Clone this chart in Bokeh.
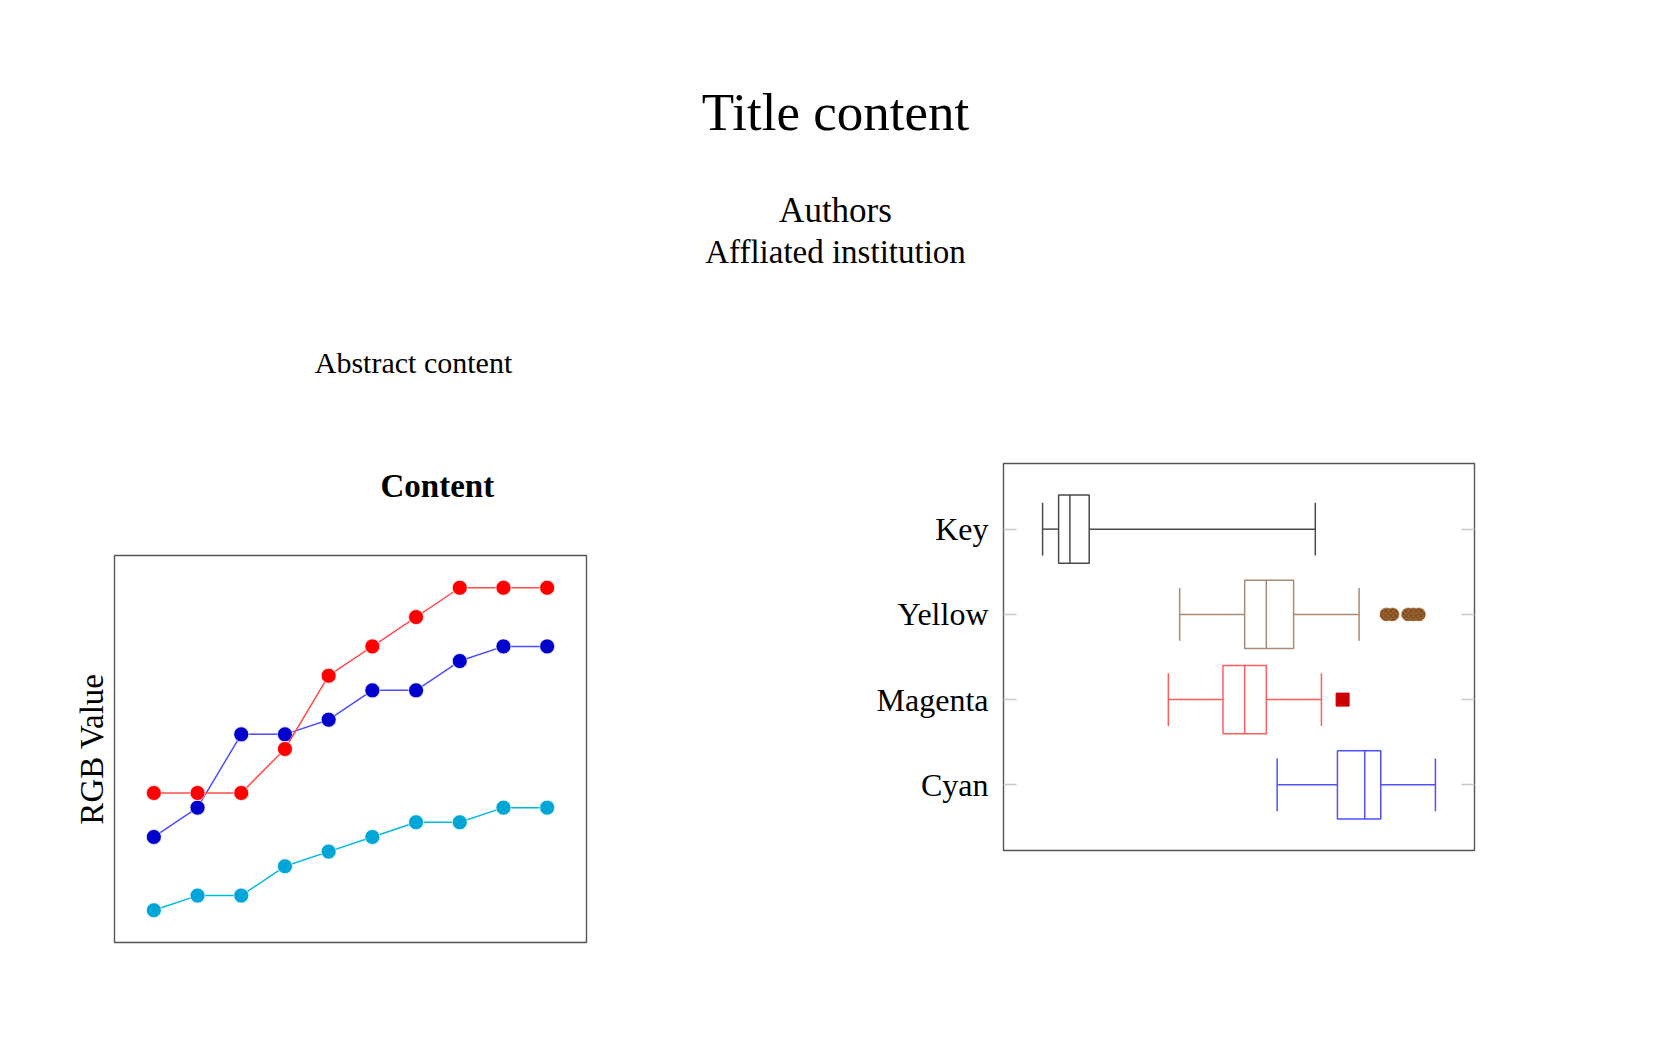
from bokeh.plotting import figure
from bokeh.models import Range1d, Label, FixedTicker, LinearAxis
from bokeh.layouts import column, row
from bokeh.embed import file_html
from bokeh.resources import INLINE

SERIF = "Liberation Serif"

# ---------------- data ----------------
sample_x = [1, 2, 3, 4, 5, 6, 7, 8, 9, 10]
red_values = [8, 8, 8, 11, 16, 18, 20, 22, 22, 22]
blue_values = [5, 7, 12, 12, 13, 15, 15, 17, 18, 18]
cyan_values = [0, 1, 1, 3, 4, 5, 6, 6, 7, 7]

box_categories = ["Cyan", "Magenta", "Yellow", "Key"]
box_lower_whisker = [58.1, 35.0, 37.4, 8.3]
box_q1 = [70.9, 46.6, 51.2, 11.7]
box_median = [76.7, 51.2, 55.8, 14.1]
box_q3 = [80.1, 55.8, 61.6, 18.2]
box_upper_whisker = [91.7, 67.5, 75.5, 66.2]
yellow_outliers = [81.3, 82.6, 85.9, 87.0, 88.2]
magenta_outliers = [72.0]

box_colors = ["#5050ff", "#ff5e5e", "#a88b74", "#4a4a4a"]

HEADER_H = 413

# ---------------- header ----------------
header = figure(frame_width=1672, frame_height=HEADER_H, x_range=Range1d(0, 1672),
                y_range=Range1d(HEADER_H, 0), toolbar_location=None, output_backend="svg",
                min_border=0)
header.axis.visible = False
header.grid.visible = False
header.outline_line_color = None

def add_label(fig, txt, x, y, size, style="normal"):
    fig.add_layout(Label(x=x, y=y, text=txt, text_font=SERIF, text_font_size=size,
                         text_align="center", text_baseline="alphabetic",
                         text_font_style=style, text_color="black"))

add_label(header, "Title content", 835, 111, "53px")
add_label(header, "Authors", 835, 210, "35px")
add_label(header, "Affliated institution", 835, 251, "33px")
add_label(header, "Abstract content", 413, 362, "30px")

# ---------------- line chart ----------------
lp = figure(frame_width=472, frame_height=387, x_range=Range1d(0.1, 10.9),
            y_range=Range1d(-2.2, 24.2), toolbar_location=None, output_backend="svg",
            min_border_left=114, min_border_right=122, min_border_top=100,
            min_border_bottom=58)
lp.grid.visible = False
lp.xaxis.visible = False
lp.yaxis.ticker = FixedTicker(ticks=[])
lp.yaxis.axis_line_color = None
lp.yaxis.major_tick_line_color = None
lp.yaxis.minor_tick_line_color = None
lp.yaxis.axis_label = "RGB Value"
lp.yaxis.axis_label_text_font = SERIF
lp.yaxis.axis_label_text_font_size = "33px"
lp.yaxis.axis_label_text_font_style = "normal"
lp.yaxis.axis_label_text_color = "black"
lp.yaxis.axis_label_standoff = 5
lp.outline_line_color = "#555555"
lp.outline_line_width = 1.4

lp.title.text = "Content"
lp.title.text_font = SERIF
lp.title.text_font_size = "33px"
lp.title.text_font_style = "bold"
lp.title.text_color = "black"
lp.title.align = "left"
lp.title.offset = 266
lp.title.standoff = 104

for vals, lcol, mcol in [(cyan_values, "#00b8e2", "#00a6d6"),
                         (blue_values, "#4d4dff", "#0000cc"),
                         (red_values, "#ff4d4d", "#ff0000")]:
    lp.line(sample_x, vals, line_color=lcol, line_width=1.5)
    lp.scatter(sample_x, vals, size=15, fill_color=mcol, line_color="white",
               line_width=1, line_alpha=0.7)

# ---------------- box plot ----------------
positions = [i + 1 for i in range(len(box_categories))]
bp = figure(frame_width=471, frame_height=387, x_range=Range1d(0, 100),
            y_range=Range1d(0.23, 4.77), toolbar_location=None, output_backend="svg",
            min_border_left=295, min_border_right=198, min_border_top=463 - HEADER_H,
            min_border_bottom=150)
bp.grid.visible = False
bp.xaxis.visible = False
bp.outline_line_color = "#555555"
bp.outline_line_width = 1.4
bp.yaxis.ticker = FixedTicker(ticks=positions)
bp.yaxis.major_label_overrides = {p: c for p, c in zip(positions, box_categories)}
bp.yaxis.major_label_text_font = SERIF
bp.yaxis.major_label_text_font_size = "32px"
bp.yaxis.major_label_text_color = "black"
bp.yaxis.axis_line_color = None
bp.yaxis.major_tick_in = 13
bp.yaxis.major_tick_out = 0
bp.yaxis.major_tick_line_color = "#c8c8c8"
bp.yaxis.major_tick_line_width = 1.5
bp.yaxis.minor_tick_line_color = None
bp.yaxis.major_label_standoff = 15

raxis = LinearAxis(ticker=FixedTicker(ticks=positions), axis_line_color=None,
                   major_tick_in=13, major_tick_out=0, major_tick_line_color="#c8c8c8",
                   major_tick_line_width=1.5, minor_tick_line_color=None,
                   major_label_text_alpha=0, major_label_text_font_size="1px")
bp.add_layout(raxis, "right")

half_box = 0.4
half_cap = 0.31
for pos, lw, q1, med, q3, uw, col in zip(positions, box_lower_whisker, box_q1, box_median,
                                          box_q3, box_upper_whisker, box_colors):
    bp.quad(left=[q1], right=[q3], bottom=[pos - half_box], top=[pos + half_box],
            fill_color=None, line_color=col, line_width=1.5)
    bp.segment(x0=[med], y0=[pos - half_box], x1=[med], y1=[pos + half_box],
               line_color=col, line_width=1.5)
    bp.segment(x0=[lw, q3], y0=[pos, pos], x1=[q1, uw], y1=[pos, pos],
               line_color=col, line_width=1.5)
    bp.segment(x0=[lw, uw], y0=[pos - half_cap, pos - half_cap], x1=[lw, uw],
               y1=[pos + half_cap, pos + half_cap], line_color=col, line_width=1.5)

yellow_pos = positions[box_categories.index("Yellow")]
magenta_pos = positions[box_categories.index("Magenta")]
bp.scatter(yellow_outliers, [yellow_pos] * len(yellow_outliers), marker="circle", size=13,
           fill_color="#9a602e", line_color="#9a602e", line_width=0.5,
           hatch_pattern="diagonal_cross", hatch_color="#5a3818", hatch_scale=5,
           hatch_alpha=0.6)
bp.scatter(magenta_outliers, [magenta_pos] * len(magenta_outliers), marker="square",
           size=13, fill_color="#cc0000", line_color="#cc0000")

layout = column(header, row(column(lp), column(bp)))
open("out.html", "w").write(file_html(layout, INLINE))
